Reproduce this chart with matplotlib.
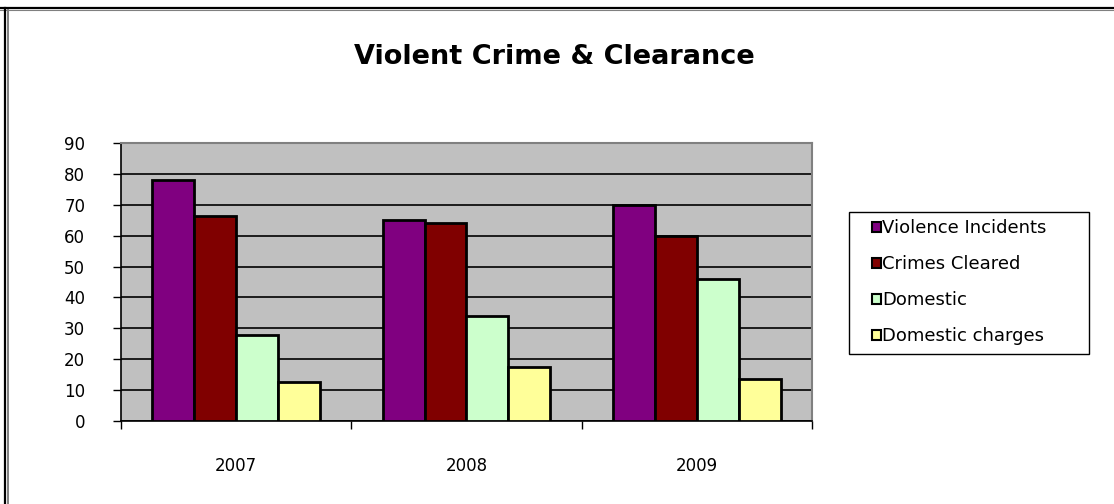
import matplotlib
matplotlib.use("Agg")
import matplotlib.pyplot as plt
import numpy as np
from matplotlib.lines import Line2D
from matplotlib.patches import Patch, Rectangle

years = ["2007", "2008", "2009"]
series_names = ["Violence Incidents", "Crimes Cleared", "Domestic", "Domestic charges"]
violence_incidents = [78, 65, 70]
crimes_cleared = [66.5, 64, 60]
domestic = [28, 34, 46]
domestic_charges = [12.5, 17.5, 13.5]
y_ticks = [0, 10, 20, 30, 40, 50, 60, 70, 80, 90]

colors = ["#800080", "#800000", "#CCFFCC", "#FFFF99"]
series = [violence_incidents, crimes_cleared, domestic, domestic_charges]

W, H = 1114, 504
fig = plt.figure(figsize=(W / 100, H / 100), dpi=100)
fig.patch.set_facecolor("white")

ax = fig.add_axes([121 / W, 1 - 421 / H, 691 / W, 278 / H])
ax.set_facecolor("#C0C0C0")

x = np.arange(len(years))
w = 1 / 5.5
for i, (vals, c, name) in enumerate(zip(series, colors, series_names)):
    ax.bar(x + (i - 1.5) * w, vals, width=w, color=c, edgecolor="black",
           linewidth=2.0, label=name, zorder=3)

ax.set_xlim(-0.5, 2.5)
ax.set_ylim(0, 90)
ax.set_yticks(y_ticks)
ax.yaxis.grid(True, color="black", linewidth=1.2, zorder=1)
ax.set_axisbelow(True)

ax.tick_params(axis="y", direction="out", length=5.8, width=1.0, pad=20,
               labelsize=12, colors="black")
ax.set_xticks(x)
ax.set_xticklabels(years)
ax.set_xticks(np.arange(-0.5, 3.0, 1.0), minor=True)
ax.tick_params(axis="x", which="major", length=0, pad=26, labelsize=12)
ax.tick_params(axis="x", which="minor", direction="out", length=5.8, width=1.0)

for s in ["top", "right"]:
    ax.spines[s].set_color("#808080")
    ax.spines[s].set_linewidth(1.5)
for s in ["left", "bottom"]:
    ax.spines[s].set_color("black")
    ax.spines[s].set_linewidth(1.2)

fig.text(554 / W, 1 - 57 / H, "Violent Crime & Clearance", ha="center",
         va="center", fontsize=19.5, fontweight="bold")

# legend frame drawn explicitly
fig.add_artist(Rectangle((849 / W, 1 - 354 / H), 240 / W, 142 / H,
                         transform=fig.transFigure, facecolor="white",
                         edgecolor="black", linewidth=1.0, zorder=2))
handles = [Patch(facecolor=c, edgecolor="black", linewidth=1.5) for c in colors]
leg = fig.legend(handles, series_names, loc="upper left",
                 bbox_to_anchor=(872 / W, 1 - 219 / H),
                 fontsize=13, frameon=False,
                 handlelength=0.48, handleheight=0.48,
                 handletextpad=0.1, labelspacing=1.0, borderpad=0,
                 borderaxespad=0)
leg.set_zorder(3)

# outer chart border (top and left)
fig.add_artist(Line2D([0, 1], [1 - 8 / H, 1 - 8 / H], color="black", linewidth=1.6,
                      transform=fig.transFigure))
fig.add_artist(Line2D([0, 1], [1 - 10 / H, 1 - 10 / H], color="#808080", linewidth=0.8,
                      transform=fig.transFigure))
fig.add_artist(Line2D([5 / W, 5 / W], [0, 1 - 8 / H], color="black", linewidth=1.6,
                      transform=fig.transFigure))
fig.add_artist(Line2D([8 / W, 8 / W], [0, 1 - 10 / H], color="#808080", linewidth=1.4,
                      transform=fig.transFigure))

fig.savefig("out.png", dpi=100)
